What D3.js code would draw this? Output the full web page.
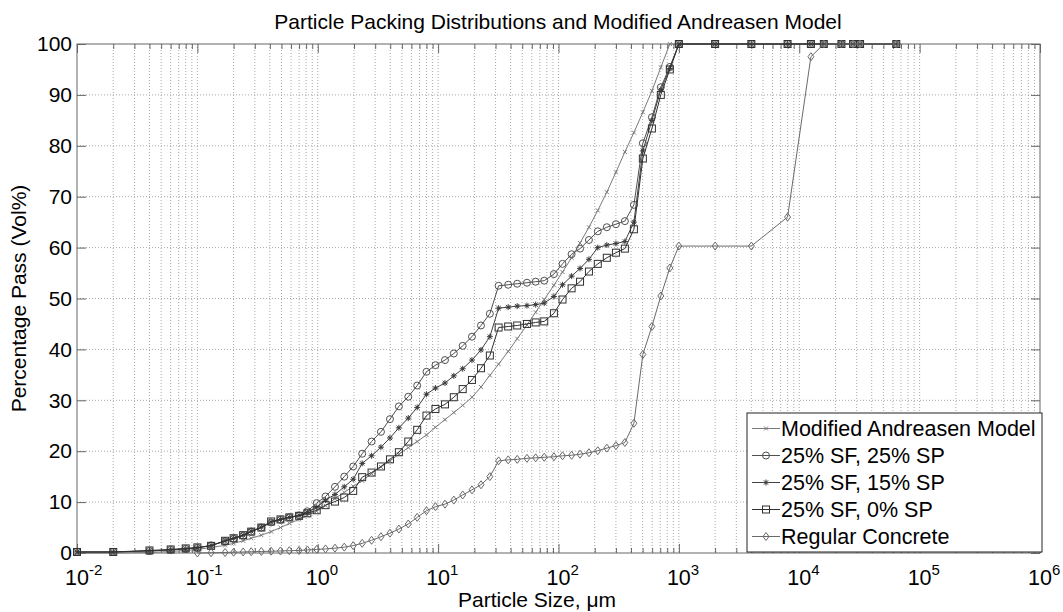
<!DOCTYPE html>
<html lang="en">
<head>
<meta charset="UTF-8" />
<title>Particle Packing Distributions</title>
<style>
  body { margin: 0; background: #fff; }
  svg text { font-family: "Liberation Sans", Arial, sans-serif; fill: #000; }
  .grid line { stroke: #a8a8a8; stroke-width: 1; stroke-dasharray: 1,2; }
  .axis path { display: none; }
  .axis line { stroke: #666; }
  .axis text { fill: #000; }
</style>
<script src="https://cdn.jsdelivr.net/npm/d3@7"></script>
</head>
<body>
<svg id="chart" width="1063" height="612"></svg>
<script>
// particle sizes (um) shared by the fine curves
const sizes = [
  0.01, 0.02, 0.04, 0.06, 0.08,
  0.1, 0.13, 0.17, 0.2, 0.24,
  0.28, 0.34, 0.41, 0.49, 0.58,
  0.7, 0.82, 0.98, 1.16, 1.39,
  1.66, 1.97, 2.34, 2.8, 3.35,
  3.98, 4.72, 5.65, 6.7, 8.0,
  9.5, 11.4, 13.5, 16.0, 19.1,
  22.7, 26.9, 31.8, 38.2, 45.4,
  54.7, 64.6, 76.1, 91.6, 108,
  128.5, 151, 179, 212, 252,
  300, 356, 423, 502, 597,
  708, 841, 1000
];
// coarse (sieve) sizes
const sievesSizes = [2000, 4000, 8000, 12500, 16000, 22400, 28000, 32000, 64000];

const modelPass = [
  0, 0, 0.1, 0.3, 0.5,
  0.7, 1.1, 1.5, 1.9, 2.4,
  2.9, 3.5, 4.2, 5.0, 5.8,
  6.6, 7.4, 8.2, 9.3, 10.7,
  11.9, 13.1, 14.2, 15.6, 16.9,
  18.1, 19.4, 20.7, 21.9, 23.2,
  24.7, 26.2, 27.6, 29.0, 30.6,
  32.6, 34.9, 37.1, 39.6, 42.1,
  44.8, 47.3, 49.8, 52.6, 55.2,
  58.0, 60.9, 64.0, 67.3, 70.9,
  74.8, 78.8, 82.6, 86.6, 90.8,
  95.4, 100, 100
];
const sf25sp25 = [
  0.2, 0.2, 0.4, 0.6, 0.8,
  1.0, 1.5, 2.3, 2.8, 3.4,
  4.2, 5.0, 6.0, 6.5, 7.0,
  7.4, 8.2, 9.8, 11.1, 13.0,
  15.0, 17.0, 19.5, 21.9, 23.8,
  26.3, 28.8, 30.7, 32.9, 35.6,
  36.9, 37.9, 39.2, 40.7, 42.5,
  44.7, 47.0, 52.5, 52.7, 52.9,
  53.1, 53.3, 53.5, 54.8, 56.8,
  58.7, 59.8, 61.5, 63.2, 64.0,
  64.6, 65.2, 68.4, 80.5, 85.6,
  91.5, 95.5, 100,
  100, 100, 100, 100, 100, 100, 100, 100, 100
];
const sf25sp15 = [
  0.2, 0.2, 0.4, 0.6, 0.8,
  1.0, 1.5, 2.4, 2.9, 3.5,
  4.3, 5.1, 6.1, 6.6, 7.0,
  7.4, 8.0, 9.0, 10.4, 11.5,
  13.0, 14.5, 17.6, 19.1, 20.8,
  22.6, 24.6, 26.5, 28.6, 31.2,
  32.4, 33.4, 34.8, 36.2, 37.9,
  39.9, 42.5, 48.1, 48.3, 48.5,
  48.6, 48.8, 49.1, 50.4, 52.7,
  54.4, 55.9, 57.7, 60.0, 60.5,
  60.8, 61.2, 65.0, 79.0, 85.0,
  91.0, 95.2, 100,
  100, 100, 100, 100, 100, 100, 100, 100, 100
];
const sf25sp0 = [
  0.2, 0.2, 0.5, 0.7, 0.9,
  1.1, 1.4, 2.4, 2.9, 3.5,
  4.2, 5.0, 6.2, 6.6, 7.0,
  7.3, 7.8, 8.4, 9.4, 10.1,
  10.9, 12.2, 14.9, 15.8, 17.0,
  18.4, 19.8, 21.9, 24.2, 27.0,
  28.3, 29.2, 30.6, 32.2, 34.0,
  36.3, 38.8, 44.3, 44.5, 44.7,
  45.0, 45.3, 45.5, 47.1, 49.8,
  52.0, 53.3, 55.3, 56.8, 58.0,
  59.0, 59.8, 63.6, 77.5, 83.4,
  90.0, 95.0, 100,
  100, 100, 100, 100, 100, 100, 100, 100, 100
];
// regular concrete starts at 0.1 um
const regularPass = [
  0, 0.05, 0.1, 0.15, 0.2,
  0.25, 0.3, 0.35, 0.4, 0.45,
  0.5, 0.6, 0.7, 0.8, 0.95,
  1.15, 1.45, 1.9, 2.5, 3.2,
  3.9, 4.7, 5.7, 7.0, 8.3,
  9.1, 9.6, 10.4, 11.4, 12.4,
  13.4, 15.0, 18.1, 18.3, 18.4,
  18.6, 18.7, 18.8, 18.9, 19.1,
  19.2, 19.4, 19.7, 20.1, 20.6,
  21.1, 21.7, 25.5, 39.0, 44.5,
  50.5, 56.0, 60.3,
  60.3, 60.3, 66.0, 97.5, 100, 100, 100, 100, 100
];

const yTicks = [0, 10, 20, 30, 40, 50, 60, 70, 80, 90, 100];
const xDecades = [-2, -1, 0, 1, 2, 3, 4, 5, 6];
const legendNames = [
  "Modified Andreasen Model",
  "25% SF, 25% SP",
  "25% SF, 15% SP",
  "25% SF, 0% SP",
  "Regular Concrete"
];

const allSizes = sizes.concat(sievesSizes);
const series = [
  { name: legendNames[0], x: sizes, y: modelPass, marker: "x", color: "#7a7a7a" },
  { name: legendNames[1], x: allSizes, y: sf25sp25, marker: "o", color: "#505050" },
  { name: legendNames[2], x: allSizes, y: sf25sp15, marker: "*", color: "#404040" },
  { name: legendNames[3], x: allSizes, y: sf25sp0, marker: "s", color: "#303030" },
  { name: legendNames[4], x: sizes.slice(5).concat(sievesSizes), y: regularPass, marker: "d", color: "#6a6a6a" }
];

const margin = { top: 44, right: 23, bottom: 59, left: 77 };
const svg = d3.select("#chart");
const W = +svg.attr("width"), H = +svg.attr("height");

const x = d3.scaleLog().domain([1e-2, 1e6]).range([margin.left, W - margin.right]);
const y = d3.scaleLinear().domain([0, 100]).range([H - margin.bottom, margin.top]);
const x0 = x.range()[0], x1 = x.range()[1], y0 = y.range()[0], y1 = y.range()[1];

// minor/major x values
const xMinor = [];
xDecades.slice(0, -1).forEach(k => {
  for (let m = 2; m <= 9; m++) xMinor.push(m * Math.pow(10, k));
});
const xMajor = xDecades.map(k => Math.pow(10, k));

// grid
const grid = svg.append("g").attr("class", "grid");
grid.selectAll(".gx").data(xMinor.concat(xMajor.slice(1, -1))).enter().append("line")
  .attr("x1", d => x(d)).attr("x2", d => x(d))
  .attr("y1", y1).attr("y2", y0);
grid.selectAll(".gy").data(yTicks.slice(1, -1)).enter().append("line")
  .attr("x1", x0).attr("x2", x1)
  .attr("y1", d => y(d)).attr("y2", d => y(d));

// ticks (inward, on all four sides)
svg.append("g").attr("class", "axis").attr("transform", `translate(0,${y0})`)
  .call(d3.axisBottom(x).tickValues(xMinor).tickSize(-5).tickFormat(""));
svg.append("g").attr("class", "axis").attr("transform", `translate(0,${y0})`)
  .call(d3.axisBottom(x).tickValues(xMajor).tickSize(-9).tickFormat(""));
svg.append("g").attr("class", "axis").attr("transform", `translate(0,${y1})`)
  .call(d3.axisTop(x).tickValues(xMinor).tickSize(-5).tickFormat(""));
svg.append("g").attr("class", "axis").attr("transform", `translate(0,${y1})`)
  .call(d3.axisTop(x).tickValues(xMajor).tickSize(-9).tickFormat(""));
svg.append("g").attr("class", "axis").attr("transform", `translate(${x0},0)`)
  .call(d3.axisLeft(y).tickValues(yTicks).tickSize(-9).tickPadding(5));
svg.append("g").attr("class", "axis").attr("transform", `translate(${x1},0)`)
  .call(d3.axisRight(y).tickValues(yTicks).tickSize(-9).tickFormat(""));
svg.selectAll(".axis text").style("font-size", "21px").attr("font-family", null);

// frame
svg.append("rect").attr("x", x0).attr("y", y1)
  .attr("width", x1 - x0).attr("height", y0 - y1)
  .attr("fill", "none").attr("stroke", "#666");

// x labels 10^k
const xl = svg.append("g");
xDecades.forEach(k => {
  const t = xl.append("text").attr("x", x(Math.pow(10, k)) - 12).attr("y", y0 + 32)
    .style("font-size", "21.5px");
  t.append("tspan").text("10");
  t.append("tspan").attr("dy", -10).style("font-size", "15px").text(k);
});

// marker drawing
function drawMarker(g, type, cx, cy, color) {
  if (type === "o") {
    g.append("circle").attr("cx", cx).attr("cy", cy).attr("r", 3.5)
      .attr("fill", "none").attr("stroke", color);
  } else if (type === "s") {
    g.append("rect").attr("x", cx - 3.5).attr("y", cy - 3.5).attr("width", 7).attr("height", 7)
      .attr("fill", "none").attr("stroke", color);
  } else if (type === "d") {
    g.append("path").attr("d", `M${cx},${cy - 4}L${cx + 3},${cy}L${cx},${cy + 4}L${cx - 3},${cy}Z`)
      .attr("fill", "none").attr("stroke", color);
  } else if (type === "x") {
    g.append("path").attr("d", `M${cx - 2},${cy - 2}L${cx + 2},${cy + 2}M${cx - 2},${cy + 2}L${cx + 2},${cy - 2}`)
      .attr("stroke", color);
  } else if (type === "*") {
    g.append("path").attr("d",
      `M${cx - 3},${cy}L${cx + 3},${cy}M${cx},${cy - 3}L${cx},${cy + 3}` +
      `M${cx - 2.2},${cy - 2.2}L${cx + 2.2},${cy + 2.2}M${cx - 2.2},${cy + 2.2}L${cx + 2.2},${cy - 2.2}`)
      .attr("stroke", color);
    g.append("circle").attr("cx", cx).attr("cy", cy).attr("r", 1.3).attr("fill", color);
  }
}

// curves
const line = d3.line().x(d => x(d[0])).y(d => y(d[1]));
const plot = svg.append("g");
series.forEach(s => {
  const pts = d3.zip(s.x, s.y);
  plot.append("path").datum(pts).attr("d", line)
    .attr("fill", "none").attr("stroke", s.color).attr("stroke-width", 1);
  const mg = plot.append("g");
  pts.forEach(p => drawMarker(mg, s.marker, x(p[0]), y(p[1]), s.color));
});

// legend
const lg = svg.append("g").attr("transform", "translate(747,413)");
lg.append("rect").attr("width", 295).attr("height", 139)
  .attr("fill", "#fff").attr("stroke", "#222");
series.forEach((s, i) => {
  const cy = 15.5 + i * 27;
  lg.append("line").attr("x1", 5).attr("x2", 33).attr("y1", cy).attr("y2", cy)
    .attr("stroke", s.color);
  drawMarker(lg, s.marker, 19, cy, s.color);
  lg.append("text").attr("x", 34).attr("y", cy + 7.5).style("font-size", "21.5px").text(s.name);
});

// titles
svg.append("text").attr("x", 558).attr("y", 29).attr("text-anchor", "middle")
  .style("font-size", "21px").text("Particle Packing Distributions and Modified Andreasen Model");
svg.append("text").attr("x", 537).attr("y", 607).attr("text-anchor", "middle")
  .style("font-size", "21px").text("Particle Size, \u03bcm");
svg.append("text").attr("transform", `translate(26,${(y0 + y1) / 2}) rotate(-90)`)
  .attr("text-anchor", "middle").style("font-size", "21px").text("Percentage Pass (Vol%)");
</script>
</body>
</html>
